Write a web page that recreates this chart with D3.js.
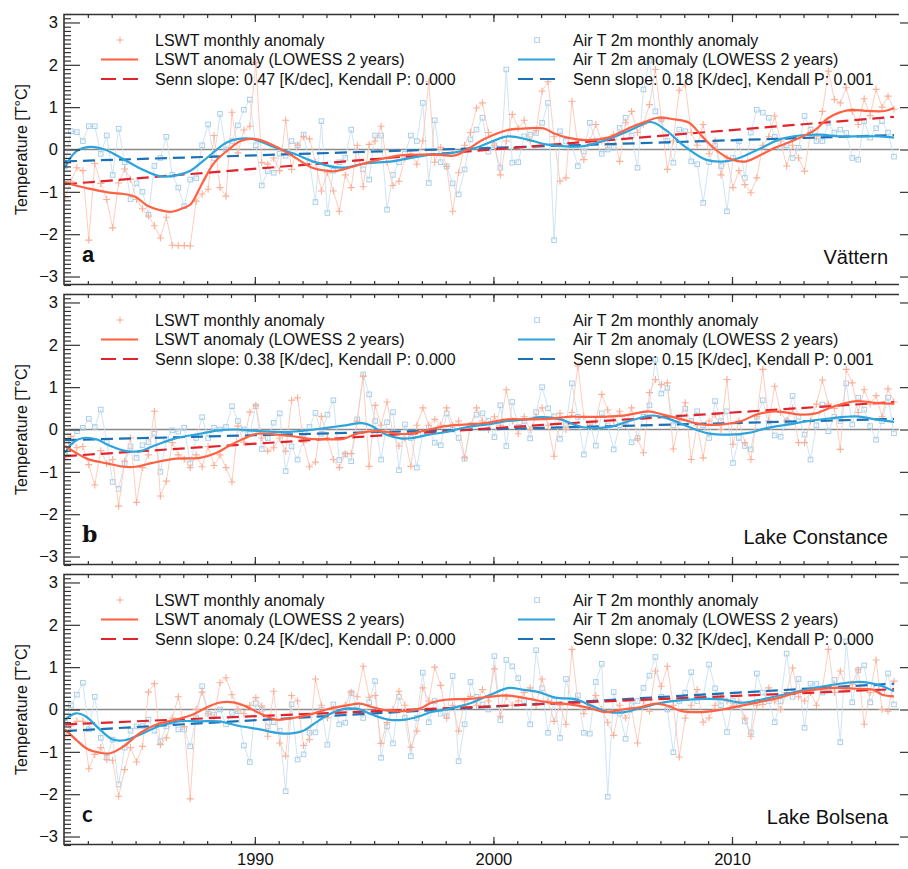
<!DOCTYPE html>
<html lang="en">
<head>
<meta charset="utf-8">
<script src="https://cdn.jsdelivr.net/npm/d3@7"></script>
<style>
  body { margin: 0; background: #fff; }
  svg text { font-family: "Liberation Sans", Arial, Helvetica, sans-serif; fill: #111; }
</style>
</head>
<body>
<svg id="chart" width="908" height="869"></svg>
<script>
// ---- data (quarterly samples of the monthly anomalies) ----
var sampleStart = 1982.04, sampleStep = 0.25

var vatternLswt = [
  -1.14,-0.75,-0.43,-0.50, -2.14,-0.33,-0.80,-1.18, -1.85,-0.79,-0.46,-0.70, -1.18,-1.40,-1.57,-1.80,
  -2.09,-1.60,-2.26,-2.27, -2.27,-2.28,-1.22,-1.05, -0.94,0.33,-0.90,-1.10, 0.88,-0.08,0.46,0.55,
  2.05,-0.31,-0.35,-0.20, -0.50,0.69,-0.47,0.10, 0.30,0.25,-0.30,-0.98, -0.55,-0.98,-1.46,-0.60,
  -0.90,0.10,-0.88,0.12, 0.20,0.55,-0.30,-0.85, -0.75,-0.20,-0.10,-0.35, 0.20,1.60,-0.30,0.05,
  -0.40,-1.46,-0.55,0.10, 0.40,0.98,1.10,0.40, 0.10,-0.60,0.20,0.83, 0.50,0.69,0.20,0.45,
  1.38,1.60,0.30,-0.75, -0.67,1.14,0.10,-0.24, 0.20,0.59,0.20,0.10, 0.35,-0.28,0.63,0.90,
  0.40,0.60,1.06,1.89, 0.70,-0.47,0.20,1.40, 1.53,0.40,0.10,0.59, -0.10,0.20,-0.60,-0.20,
  -0.90,-0.50,-0.83,-1.02, -0.67,0.10,0.30,0.79, 0.20,-0.39,0.10,-0.20, -0.51,0.40,0.30,0.90,
  1.85,1.18,1.10,1.46, 0.90,0.59,1.20,0.80, 1.42,1.00,1.26,0.95]
var vatternAir = [
  -0.40,0.43,0.41,0.20, 0.55,0.55,-0.10,0.33, -0.60,0.49,-0.30,-1.17, -0.80,-1.00,-1.54,-0.39,
  -0.20,0.30,-0.60,-0.90, -1.34,-0.71,-0.68,0.10, 0.59,-0.20,0.84,0.00, 0.20,0.57,0.94,1.18,
  0.10,-0.85,-0.51,-0.55, -0.10,-0.15,0.20,0.10, 0.35,-0.30,-1.24,0.67, -1.50,-0.50,-0.30,-0.20,
  0.47,-0.30,-0.47,-0.71, 0.33,0.33,-1.42,-0.60, -0.30,-0.10,0.33,0.20, 1.10,-0.79,0.69,-0.30,
  -0.40,-0.80,-1.06,-0.47, 0.24,0.47,0.75,-0.05, 0.10,-0.43,1.89,-0.31, -0.30,0.31,0.35,0.39,
  0.63,1.10,-2.14,0.43, 0.20,0.10,-0.39,-0.05, 0.63,0.20,-0.10,0.00, 0.04,0.51,0.75,0.33,
  -0.43,1.42,2.10,0.90, 0.71,0.20,-0.31,0.47, 0.43,-0.28,-0.35,-1.26, -0.30,0.10,-0.39,-1.46,
  -0.20,0.20,-0.67,0.40, 0.94,0.87,0.75,0.30, 0.04,0.10,-0.20,0.04, 0.79,0.47,0.20,0.20,
  0.63,0.40,0.47,0.39, -0.20,-0.24,0.67,0.28, 0.50,0.67,0.40,-0.17]

var constanceLswt = [
  -0.70,-0.16,-0.43,-0.40, -0.83,-1.31,-0.50,-0.80, -0.71,-1.81,-0.75,-0.20, -1.72,-0.90,-0.60,0.43,
  -1.57,-1.22,-0.31,-0.60, -0.70,-0.90,-0.60,-0.88, -0.40,-0.85,-0.60,-0.90, -1.24,0.08,-0.30,0.41,
  0.57,-0.20,-0.51,-0.43, -0.20,-0.51,0.69,0.75, -0.30,-0.88,-0.77,0.31, -0.20,-0.71,-0.90,-0.57,
  -0.57,0.20,1.26,-0.87, 0.57,0.10,0.65,-0.10, -0.39,-0.20,-0.87,0.10, 0.51,0.10,0.24,0.10,
  0.51,0.10,0.20,-0.67, 0.10,0.51,0.20,0.00, 0.30,0.10,0.94,0.20, -0.10,0.30,0.00,0.30,
  0.51,0.10,-0.63,0.38, 0.00,0.40,1.50,0.30, 0.10,0.20,0.83,0.46, 0.20,0.43,0.10,0.51,
  -0.22,-0.55,0.87,1.18, 1.06,1.10,-0.46,0.20, 0.63,-0.71,0.10,-0.67, 0.20,0.35,0.00,1.18,
  -0.35,0.20,-0.31,-0.71, 0.30,1.42,0.20,1.02, 0.40,0.20,0.50,-0.31, -0.31,0.20,0.60,1.17,
  0.60,0.50,-0.47,1.42, 1.10,0.40,0.94,0.60, 0.80,0.30,0.96,0.65]
var constanceAir = [
  -0.55,-0.30,-0.04,0.04, 0.25,0.06,0.47,-0.28, -1.24,-1.40,-0.80,-0.40, -0.67,-0.37,-0.30,-0.10,
  -1.00,-0.24,-0.02,-0.05, 0.04,-0.80,-0.20,0.29, -0.20,0.04,0.00,0.06, 0.55,0.20,0.00,-0.10,
  0.55,-0.46,-0.20,0.16, 0.38,-0.98,-0.40,-0.71, -0.20,0.06,0.39,-0.10, 0.35,0.69,-0.72,-0.59,
  -0.75,0.24,1.30,0.83, 0.20,-0.71,0.17,0.41, -0.96,0.12,-0.20,-0.90, -0.10,0.04,-0.31,-0.37,
  0.38,0.00,-0.20,-0.69, 0.10,0.35,0.38,0.21, -0.18,0.57,-0.39,0.65, 0.06,0.20,-0.21,0.41,
  1.00,0.50,0.31,-0.22, 0.10,1.09,0.30,-0.59, 0.15,-0.38,0.38,0.10, -0.47,0.10,0.20,-0.30,
  -0.20,0.30,0.57,1.65, 0.85,0.98,0.10,0.30, 0.49,0.20,0.43,0.10, -0.20,0.67,0.20,0.43,
  -0.79,-0.20,-0.39,-0.47, 0.30,0.69,0.09,-0.14, -0.17,0.20,0.79,0.30, -0.12,-0.71,0.10,0.59,
  -0.04,0.30,0.20,1.09, 0.12,0.75,0.47,0.08, -0.24,0.20,0.75,-0.09]

var bolsenaLswt = [
  -0.63,-0.39,-0.28,-0.28, -1.40,-1.06,-0.90,-1.18, -1.20,-2.05,-1.42,-0.90, -1.24,-0.87,0.41,0.61,
  -0.83,-0.67,-0.20,0.30, -0.40,-2.11,0.00,0.41, -0.10,-0.20,0.63,0.75, 0.35,0.00,-0.10,0.10,
  0.28,0.08,-0.63,0.43, -0.79,-1.10,0.33,0.20, -0.85,-0.71,0.72,0.10, -0.20,0.00,-0.10,0.10,
  0.41,0.30,1.02,0.29, 0.33,-0.80,-0.31,0.00, 0.43,0.10,-0.89,-0.51, 0.51,0.20,1.00,0.57,
  -0.20,0.10,-0.51,0.20, 0.31,0.10,0.47,0.20, 0.96,-0.16,0.30,0.10, 0.20,0.40,0.51,0.10,
  0.72,0.20,-0.28,0.10, -0.35,1.42,0.20,-0.10, 0.10,0.33,0.00,-0.30, -0.61,0.10,-0.20,0.00,
  -0.79,0.20,-0.04,0.91, 0.55,1.02,0.10,-1.12, -0.20,0.10,0.47,-0.30, -0.20,0.10,0.30,0.20,
  0.08,0.20,-0.20,-0.63, 0.10,0.12,0.51,0.20, 0.00,0.40,0.98,0.30, 0.20,0.40,0.10,0.50,
  1.42,0.40,0.91,0.50, 0.60,0.94,-0.35,0.40, 1.17,0.00,-0.04,0.67]
var bolsenaAir = [
  -0.31,0.10,0.35,0.63, -0.47,0.30,-0.67,-1.14, -0.71,-1.77,-0.90,-0.50, -0.40,-0.39,-0.24,-0.50,
  -0.75,-0.40,-0.30,-0.47, -0.47,-0.87,-0.20,0.55, -0.10,-0.12,0.00,-0.35, -0.08,-0.04,-0.85,-1.24,
  0.14,0.00,-0.40,-0.30, -0.50,-1.93,0.12,-1.18, -1.06,-0.55,-0.54,0.00, -0.83,0.12,-0.35,-0.31,
  0.39,0.10,-0.20,0.17, 0.67,-1.14,-0.40,-0.80, 0.30,-0.20,-1.10,-0.20, 0.87,-0.30,0.20,-0.10,
  -0.16,0.79,-1.22,-0.35, 0.65,0.30,0.12,0.00, 1.26,-0.25,1.17,1.02, 0.74,0.20,-0.35,1.40,
  0.50,-0.55,0.20,-0.67, 0.72,0.20,0.33,-0.55, -0.57,0.65,1.08,-2.06, 0.41,-0.10,-0.69,0.10,
  0.20,0.51,0.80,1.24, 0.30,0.00,-1.01,0.20, 0.40,0.88,0.20,0.30, 1.06,0.50,0.10,-0.53,
  0.20,0.10,-0.28,-0.54, 0.85,0.40,0.20,-0.30, 0.20,1.32,0.30,0.72, -0.43,0.61,0.60,0.40,
  0.50,0.70,-0.77,1.61, 0.17,0.93,1.04,0.17, 0.50,0.40,0.85,0.12]

// LOWESS (2 years) curves, [year, anomaly]
var vatternLswtLowess = [[1982.04,-0.77],[1982.5,-0.85],[1983.1,-0.93],[1983.9,-1.02],[1984.5,-1.05],[1985.0,-1.12],[1985.5,-1.33],[1986.0,-1.43],[1986.5,-1.47],[1987.0,-1.38],[1987.3,-1.3],[1987.8,-0.79],[1988.3,-0.31],[1988.9,0.0],[1989.4,0.2],[1989.96,0.25],[1990.7,0.12],[1991.6,-0.16],[1992.4,-0.43],[1993.0,-0.5],[1993.4,-0.51],[1994.7,-0.31],[1996.1,-0.14],[1997.5,-0.12],[1998.4,-0.14],[1998.9,0.0],[1999.6,0.24],[2000.6,0.46],[2001.15,0.49],[2002.1,0.5],[2002.5,0.39],[2003.1,0.28],[2003.9,0.22],[2004.8,0.28],[2005.3,0.4],[2005.7,0.51],[2006.25,0.63],[2006.9,0.75],[2007.6,0.71],[2008.2,0.63],[2008.75,0.31],[2009.3,0.0],[2010.0,-0.24],[2010.6,-0.28],[2011.1,-0.16],[2011.8,0.04],[2012.7,0.24],[2013.5,0.47],[2014.05,0.75],[2014.9,0.93],[2015.7,0.91],[2016.4,0.91],[2016.79,0.98]]
var vatternAirLowess = [[1982.04,-0.42],[1982.5,-0.05],[1983.1,0.06],[1983.7,0.0],[1984.4,-0.2],[1985.2,-0.45],[1986.0,-0.63],[1986.7,-0.61],[1987.3,-0.5],[1987.9,-0.24],[1988.8,0.16],[1989.3,0.25],[1989.9,0.25],[1990.8,0.06],[1991.6,-0.09],[1992.6,-0.31],[1993.6,-0.43],[1994.65,-0.33],[1995.75,-0.28],[1996.7,-0.18],[1997.4,-0.12],[1998.15,-0.09],[1999.27,0.04],[2000.6,0.31],[2001.4,0.24],[2002.2,0.12],[2002.9,0.08],[2003.8,0.08],[2004.8,0.24],[2005.8,0.47],[2006.6,0.65],[2007.2,0.47],[2008.0,0.08],[2008.9,-0.24],[2009.7,-0.28],[2010.3,-0.2],[2011.1,0.0],[2012.0,0.24],[2012.85,0.33],[2013.7,0.35],[2014.5,0.31],[2015.4,0.31],[2016.2,0.31],[2016.79,0.28]]
var constanceLswtLowess = [[1982.04,-0.39],[1982.5,-0.55],[1983.0,-0.7],[1983.8,-0.8],[1984.5,-0.88],[1985.0,-0.88],[1985.7,-0.79],[1986.7,-0.69],[1987.7,-0.67],[1988.4,-0.55],[1988.9,-0.39],[1989.6,-0.2],[1990.1,-0.1],[1990.9,-0.12],[1991.6,-0.16],[1992.3,-0.22],[1993.0,-0.23],[1993.7,-0.22],[1994.4,-0.08],[1995.2,-0.04],[1996.0,-0.1],[1996.5,-0.1],[1997.3,0.0],[1998.0,0.08],[1998.9,0.12],[1999.75,0.16],[2000.6,0.24],[2001.4,0.24],[2002.3,0.25],[2003.1,0.3],[2003.7,0.3],[2004.5,0.3],[2005.3,0.32],[2005.7,0.35],[2006.5,0.43],[2007.1,0.35],[2007.9,0.24],[2008.75,0.12],[2009.6,0.12],[2010.4,0.2],[2011.0,0.35],[2011.8,0.43],[2012.95,0.35],[2013.5,0.38],[2014.3,0.55],[2015.2,0.67],[2016.0,0.63],[2016.79,0.61]]
var constanceAirLowess = [[1982.04,-0.55],[1982.4,-0.3],[1982.8,-0.2],[1983.4,-0.24],[1983.9,-0.38],[1984.6,-0.51],[1985.2,-0.51],[1985.7,-0.4],[1986.6,-0.22],[1987.7,-0.1],[1988.5,-0.02],[1989.2,0.0],[1990.2,-0.04],[1991.3,-0.06],[1992.2,-0.02],[1993.0,0.04],[1993.7,0.09],[1994.5,0.15],[1994.9,0.08],[1995.5,-0.12],[1996.1,-0.21],[1996.6,-0.2],[1997.3,-0.12],[1998.0,-0.06],[1998.9,0.06],[1999.75,0.12],[2000.6,0.2],[2001.4,0.24],[2002.05,0.29],[2002.8,0.24],[2003.7,0.06],[2004.5,0.04],[2005.0,0.08],[2005.7,0.2],[2006.65,0.33],[2007.35,0.25],[2008.2,0.06],[2009.0,-0.09],[2009.9,-0.12],[2010.7,-0.08],[2011.5,0.04],[2012.4,0.12],[2013.2,0.2],[2014.05,0.26],[2015.2,0.31],[2016.0,0.24],[2016.79,0.18]]
var bolsenaLswtLowess = [[1982.04,-0.47],[1982.5,-0.71],[1983.0,-0.94],[1983.5,-1.02],[1983.9,-1.04],[1984.5,-0.87],[1985.2,-0.55],[1985.9,-0.35],[1986.7,-0.24],[1987.4,-0.12],[1987.95,0.04],[1988.5,0.16],[1989.1,0.17],[1989.6,0.08],[1990.2,-0.09],[1990.9,-0.24],[1991.6,-0.2],[1992.3,-0.12],[1993.0,0.0],[1993.8,0.09],[1994.4,0.14],[1994.9,0.06],[1995.5,-0.02],[1996.2,-0.04],[1996.9,0.02],[1997.4,0.16],[1998.0,0.23],[1999.0,0.25],[1999.8,0.3],[2000.65,0.33],[2001.5,0.25],[2002.3,0.17],[2003.2,0.12],[2004.0,0.04],[2004.7,-0.06],[2005.4,0.0],[2006.2,0.06],[2006.8,0.14],[2007.35,0.08],[2007.9,-0.04],[2008.75,-0.06],[2009.6,0.0],[2010.3,0.08],[2011.1,0.17],[2012.0,0.28],[2012.65,0.39],[2013.5,0.47],[2014.3,0.51],[2015.2,0.49],[2015.9,0.47],[2016.3,0.35],[2016.79,0.31]]
var bolsenaAirLowess = [[1982.04,-0.24],[1982.5,-0.09],[1982.9,-0.16],[1983.5,-0.47],[1984.05,-0.71],[1984.6,-0.72],[1985.2,-0.59],[1986.0,-0.39],[1986.8,-0.28],[1987.7,-0.28],[1988.5,-0.28],[1989.35,-0.39],[1990.2,-0.47],[1990.9,-0.55],[1991.45,-0.57],[1992.0,-0.51],[1992.55,-0.31],[1993.1,-0.12],[1993.8,0.02],[1994.4,0.0],[1994.9,-0.12],[1995.6,-0.24],[1996.3,-0.24],[1996.9,-0.16],[1997.4,-0.06],[1998.0,0.0],[1999.0,0.14],[1999.8,0.33],[2000.65,0.51],[2001.2,0.47],[2001.9,0.41],[2002.6,0.28],[2003.45,0.24],[2004.15,0.08],[2004.85,-0.06],[2005.5,-0.06],[2006.2,0.04],[2007.05,0.16],[2007.9,0.22],[2008.75,0.25],[2009.6,0.24],[2010.4,0.16],[2011.1,0.22],[2012.0,0.33],[2012.65,0.41],[2013.5,0.51],[2014.3,0.59],[2015.2,0.65],[2015.75,0.63],[2016.3,0.55],[2016.79,0.43]]

// Senn slope trend lines: value at first and last sample
var vatternSenn = { lswt: [-0.82, 0.77], air: [-0.28, 0.34] }
var constanceSenn = { lswt: [-0.63, 0.65], air: [-0.25, 0.25] }
var bolsenaSenn = { lswt: [-0.35, 0.48], air: [-0.51, 0.61] }

var sennText = [
  ["Senn slope: 0.47 [K/dec], Kendall P: 0.000", "Senn slope: 0.18 [K/dec], Kendall P: 0.001"],
  ["Senn slope: 0.38 [K/dec], Kendall P: 0.000", "Senn slope: 0.15 [K/dec], Kendall P: 0.001"],
  ["Senn slope: 0.24 [K/dec], Kendall P: 0.000", "Senn slope: 0.32 [K/dec], Kendall P: 0.000"]
]
var lakeNames = ["Vättern", "Lake Constance", "Lake Bolsena"]
var panelLetters = ["a", "b", "c"]
var yTickValues = [-3, -2, -1, 0, 1, 2, 3]
var xLabelYears = [1990, 2000, 2010]

// ---- layout ----
var width = 908, height = 869
var left = 64, right = 899
var panelTops = [14, 294, 574], panelH = 271
var letterFonts = ['"Liberation Sans", Arial, sans-serif', '"DejaVu Serif", serif', 'Lato, "Open Sans", sans-serif']

var col = {
  lswtLight: "#fcae96", lswtLine: "#fdc8b7",
  airLight: "#a9cfe8", airLine: "#cbe1f1",
  lswtLowess: "#ff6142", airLowess: "#2ca4dc",
  lswtSenn: "#e3232c", airSenn: "#1b71b8"
}

var svg = d3.select("#chart")
var sampleTimes = d3.range(vatternLswt.length).map(function(i) { return sampleStart + i * sampleStep })

var panels = [
  { lswt: vatternLswt, air: vatternAir, lswtLo: vatternLswtLowess, airLo: vatternAirLowess, senn: vatternSenn },
  { lswt: constanceLswt, air: constanceAir, lswtLo: constanceLswtLowess, airLo: constanceAirLowess, senn: constanceSenn },
  { lswt: bolsenaLswt, air: bolsenaAir, lswtLo: bolsenaLswtLowess, airLo: bolsenaAirLowess, senn: bolsenaSenn }
]

var x = d3.scaleLinear().domain([1982, 2017]).range([left, right])
var minus = function(d) { return d < 0 ? "\u2212" + Math.abs(d) : String(d) }

svg.append("defs").append("clipPath").attr("id", "plotclip")
  .append("rect").attr("x", left).attr("y", 0).attr("width", right - left).attr("height", panelH)

panels.forEach(function(p, pi) {
  var top = panelTops[pi]
  var y = d3.scaleLinear().domain([-3.2, 3.2]).range([panelH, 0])
  var g = svg.append("g").attr("transform", "translate(0," + top + ")")
  var plot = g.append("g").attr("clip-path", "url(#plotclip)")

  // zero line
  plot.append("line").attr("x1", left).attr("x2", right + 9)
    .attr("y1", y(0)).attr("y2", y(0)).attr("stroke", "#8a8a8a").attr("stroke-width", 1.4)

  var pts = function(vals) { return vals.map(function(v, i) { return [sampleTimes[i], v] }) }
  var line = d3.line().x(function(d) { return x(d[0]) }).y(function(d) { return y(d[1]) })
  var smooth = d3.line().x(function(d) { return x(d[0]) }).y(function(d) { return y(d[1]) })
    .curve(d3.curveCatmullRom.alpha(0.5))

  // air monthly (squares)
  plot.append("path").datum(pts(p.air)).attr("d", line)
    .attr("fill", "none").attr("stroke", col.airLine).attr("stroke-width", 0.9)
  plot.selectAll(".sq").data(pts(p.air)).enter().append("rect")
    .attr("x", function(d) { return x(d[0]) - 2.3 }).attr("y", function(d) { return y(d[1]) - 2.3 })
    .attr("width", 4.6).attr("height", 4.6)
    .attr("fill", "none").attr("stroke", col.airLight).attr("stroke-width", 1)

  // LSWT monthly (plus)
  plot.append("path").datum(pts(p.lswt)).attr("d", line)
    .attr("fill", "none").attr("stroke", col.lswtLine).attr("stroke-width", 0.9)
  plot.selectAll(".pl").data(pts(p.lswt)).enter().append("path")
    .attr("d", function(d) {
      var cx = x(d[0]), cy = y(d[1])
      return "M" + (cx - 3.5) + "," + cy + "H" + (cx + 3.5) + "M" + cx + "," + (cy - 3.5) + "V" + (cy + 3.5)
    })
    .attr("stroke", col.lswtLight).attr("stroke-width", 1.1)

  // Senn slope trends
  var t0 = sampleTimes[0], t1 = sampleTimes[sampleTimes.length - 1]
  plot.append("path").datum([[t0, p.senn.air[0]], [t1, p.senn.air[1]]]).attr("d", line)
    .attr("stroke", col.airSenn).attr("stroke-width", 2.2).attr("stroke-dasharray", "12,6").attr("fill", "none")
  plot.append("path").datum([[t0, p.senn.lswt[0]], [t1, p.senn.lswt[1]]]).attr("d", line)
    .attr("stroke", col.lswtSenn).attr("stroke-width", 2.2).attr("stroke-dasharray", "12,6").attr("fill", "none")

  // LOWESS
  plot.append("path").datum(p.airLo).attr("d", smooth)
    .attr("fill", "none").attr("stroke", col.airLowess).attr("stroke-width", 2.2)
  plot.append("path").datum(p.lswtLo).attr("d", smooth)
    .attr("fill", "none").attr("stroke", col.lswtLowess).attr("stroke-width", 2.2)

  // y axis left: major + minor ticks
  var yMinor = d3.range(-32, 33).filter(function(v) { return v % 10 !== 0 }).map(function(v) { return v / 10 })
  g.append("g").attr("transform", "translate(" + left + ",0)")
    .call(d3.axisLeft(y).tickValues(yMinor).tickSizeInner(-7).tickSizeOuter(0).tickFormat(""))
  var ya = g.append("g").attr("transform", "translate(" + left + ",0)")
    .call(d3.axisLeft(y).tickValues(yTickValues).tickSizeInner(-16).tickSizeOuter(0).tickPadding(6).tickFormat(minus))
  ya.selectAll("text").style("font-size", "16.5px").attr("fill", "#111")

  // y axis right: major ticks
  g.append("g").attr("transform", "translate(" + (right + 1) + ",0)")
    .call(d3.axisRight(y).tickValues(yTickValues).tickSizeInner(8).tickSizeOuter(0).tickFormat(""))

  // x axes top and bottom
  var yrs = d3.range(1983, 2017)
  g.append("g").attr("transform", "translate(0,0)")
    .call(d3.axisTop(x).tickValues(yrs).tickSizeInner(-4).tickSizeOuter(0).tickFormat(""))
  g.append("g").attr("transform", "translate(0,0)")
    .call(d3.axisTop(x).tickValues(xLabelYears).tickSizeInner(-8).tickSizeOuter(0).tickFormat(""))
  g.append("g").attr("transform", "translate(0," + panelH + ")")
    .call(d3.axisBottom(x).tickValues(yrs).tickSizeInner(-4).tickSizeOuter(0).tickFormat(""))
  var xb = g.append("g").attr("transform", "translate(0," + panelH + ")")
    .call(d3.axisBottom(x).tickValues(xLabelYears).tickSizeInner(-8).tickSizeOuter(0).tickPadding(8)
      .tickFormat(pi === 2 ? d3.format("d") : ""))
  xb.selectAll("text").style("font-size", "16.5px").attr("fill", "#111")

  g.selectAll(".domain").remove()
  g.selectAll(".tick line").attr("stroke", "#333").attr("stroke-width", 1.2)

  // frame
  g.append("path").attr("d", "M" + right + ",0.5H" + left + "V" + (panelH - 0.5) + "H" + right)
    .attr("fill", "none").attr("stroke", "#333").attr("stroke-width", 1.6)

  // legend
  var rows = [26, 45.5, 65]
  var legs = [
    { mx: 101, tx: 155, kind: "lswt", labels: ["LSWT monthly anomaly", "LSWT anomaly (LOWESS 2 years)", sennText[pi][0]] },
    { mx: 518, tx: 573, kind: "air", labels: ["Air T 2m monthly anomaly", "Air T 2m anomaly (LOWESS 2 years)", sennText[pi][1]] }
  ]
  legs.forEach(function(L) {
    var lg = g.append("g")
    var cx = L.mx + 19
    if (L.kind === "lswt") {
      lg.append("path").attr("d", "M" + (cx - 3.5) + "," + rows[0] + "H" + (cx + 3.5) + "M" + cx + "," + (rows[0] - 3.5) + "V" + (rows[0] + 3.5))
        .attr("stroke", col.lswtLight).attr("stroke-width", 1.1)
    } else {
      lg.append("rect").attr("x", cx - 2.3).attr("y", rows[0] - 2.3).attr("width", 4.6).attr("height", 4.6)
        .attr("fill", "none").attr("stroke", col.airLight).attr("stroke-width", 1)
    }
    lg.append("line").attr("x1", L.mx).attr("x2", L.mx + 37).attr("y1", rows[1]).attr("y2", rows[1])
      .attr("stroke", L.kind === "lswt" ? col.lswtLowess : col.airLowess).attr("stroke-width", 2.2)
    lg.append("line").attr("x1", L.mx).attr("x2", L.mx + 37).attr("y1", rows[2]).attr("y2", rows[2])
      .attr("stroke", L.kind === "lswt" ? col.lswtSenn : col.airSenn).attr("stroke-width", 2.2)
      .attr("stroke-dasharray", "15,7")
    lg.selectAll("text").data(L.labels).enter().append("text")
      .attr("x", L.tx).attr("y", function(d, i) { return rows[i] + 5.8 })
      .style("font-size", "16px").text(function(d) { return d })
  })

  // panel letter and lake name
  g.append("text").attr("x", 82).attr("y", 248).text(panelLetters[pi])
    .style("font-family", letterFonts[pi]).style("font-weight", "bold").style("font-size", "22px")
  g.append("text").attr("x", 888).attr("y", 250).attr("text-anchor", "end").text(lakeNames[pi])
    .style("font-size", "20px")

  // y label
  g.append("text").attr("transform", "translate(27," + (panelH / 2) + ") rotate(-90)")
    .attr("text-anchor", "middle").style("font-size", "16px").text("Temperature [T\u00b0C]")
})
</script>
</body>
</html>
